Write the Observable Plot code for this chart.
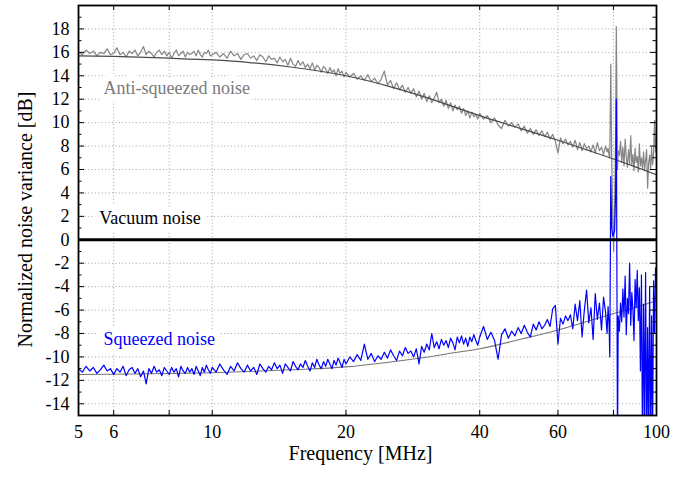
<!DOCTYPE html>
<html>
<head>
<meta charset="utf-8">
<script src="https://cdn.jsdelivr.net/npm/d3@7"></script>
<script src="https://cdn.jsdelivr.net/npm/@observablehq/plot@0.6"></script>
<style>
  html, body { margin: 0; padding: 0; background: #fff; }
  svg { display: block; }
  svg, svg text { font-family: "Liberation Serif", "Times New Roman", Tinos, "DejaVu Serif", "Noto Serif", serif !important; }
</style>
</head>
<body>
<div id="chart"></div>
<script>
// Sample frequencies [MHz]
const freq = [
  5.0,5.1,5.2,5.3,5.4,5.5,5.6,5.7,5.8,5.9,
  6.0,6.1,6.2,6.3,6.4,6.5,6.6,6.7,6.8,6.9,
  7.0,7.1,7.2,7.3,7.4,7.5,7.6,7.7,7.8,7.9,
  8.0,8.1,8.2,8.3,8.4,8.5,8.6,8.7,8.8,8.9,
  9.0,9.1,9.2,9.3,9.4,9.5,9.6,9.7,9.8,9.9,
  10,10.2,10.4,10.6,10.8,11,11.2,11.4,11.6,11.8,
  12,12.2,12.4,12.6,12.8,13,13.2,13.4,13.6,13.8,
  14,14.2,14.4,14.6,14.8,15,15.2,15.4,15.6,15.8,
  16,16.2,16.4,16.6,16.8,17,17.2,17.4,17.6,17.8,
  18,18.2,18.4,18.6,18.8,19,19.2,19.4,19.6,19.8,
  20,20.4,20.8,21.2,21.6,22,22.4,22.8,23.2,23.6,
  24,24.4,24.8,25.2,25.6,26,26.4,26.8,27.2,27.6,
  28,28.4,28.8,29.2,29.6,30,30.4,30.8,31.2,31.6,
  32,32.4,32.8,33.2,33.6,34,34.4,34.8,35.2,35.6,
  36,36.4,36.8,37.2,37.6,38,38.4,38.8,39.2,39.6,
  40,40.8,41.6,42.4,43.2,44,44.8,45.6,46.4,47.2,
  48,48.8,49.6,50.4,51.2,52,52.8,53.6,54.4,55.2,
  56,56.8,57.6,58.4,59.2,60,60.8,61.6,62.4,63.2,
  64,64.8,65.6,66.4,67.2,68,68.8,69.6,70.4,71.2,
  72,72.8,73.6,74.4,75.2,76,76.8,77.4,77.8,78.2,
  78.5,78.9,79.3,79.7,80.1,80.5,80.9,81.2,81.7,82.0,
  82.5,83,83.5,84,84.5,85,85.5,86,86.5,87,
  87.5,88,88.5,89,89.5,90,90.5,91,91.5,92,
  92.5,93,93.5,94,94.5,95,95.5,96,96.5,97,
  97.5,98,98.5,99,99.5,100
];

// Anti-squeezed noise [dB] (gray trace)
const antiSqueezed = [
  16.0,15.8,16.2,15.9,16.1,15.7,16.0,15.9,16.3,15.8,
  15.9,16.4,15.8,16.0,15.6,16.1,15.9,16.2,15.7,16.0,
  16.5,15.8,16.1,15.9,15.6,16.0,16.2,15.8,16.1,15.7,
  16.0,15.5,15.9,16.2,15.7,15.9,16.1,15.6,16.0,15.8,
  15.9,16.1,15.7,16.2,15.8,15.6,16.0,15.9,16.2,15.7,
  15.8,16.0,15.6,15.9,15.5,16.1,15.7,15.9,15.4,15.8,
  15.9,15.5,15.7,15.3,15.8,15.6,15.2,15.7,15.4,15.5,
  15.1,15.6,15.2,15.4,14.9,15.5,15.0,14.8,15.3,14.9,
  15.2,14.7,15.0,14.6,15.1,14.5,14.9,14.7,14.3,14.8,
  14.6,14.2,14.7,14.3,14.5,14.0,14.6,14.2,14.4,13.9,
  14.3,13.9,14.2,13.7,14.0,13.6,14.1,13.5,13.8,13.3,
  13.7,14.4,13.2,13.6,12.9,13.4,12.8,13.2,12.6,13.0,
  12.5,12.9,12.2,12.7,12.0,12.5,11.8,12.3,11.7,12.1,
  12.6,11.7,12.0,11.4,11.9,11.2,11.7,11.0,11.5,11.1,
  11.4,10.8,11.2,10.6,11.0,10.4,10.9,10.5,10.7,10.3,
  10.8,10.3,10.6,10.0,10.4,9.8,9.5,10.2,9.7,10.0,
  9.6,9.9,9.3,9.7,9.1,9.5,9.0,9.4,8.9,9.3,
  8.8,9.2,8.6,9.0,8.4,7.4,8.7,8.2,8.6,8.1,
  8.4,7.9,8.5,7.7,8.3,7.6,8.2,7.8,8.0,7.5,
  8.1,7.4,8.3,7.6,7.9,7.3,8.0,7.5,7.8,7.2,
  7.0,15.0,6.5,2.0,-1.0,3.0,9.0,18.2,6.0,7.6,
  7.2,8.4,6.6,7.9,6.3,8.6,7.0,6.2,7.7,6.5,
  8.9,6.4,7.3,5.9,7.8,6.6,7.1,5.8,8.2,6.3,
  7.0,6.1,7.5,5.9,6.8,7.7,4.4,6.5,7.2,6.0,
  7.9,6.4,7.3,10.2,7.5,8.6
];

// Squeezed noise [dB] (blue trace)
const squeezed = [
  -11.0,-11.3,-10.8,-11.2,-10.9,-11.4,-11.1,-10.7,-11.2,-11.0,
  -11.5,-11.0,-11.3,-10.8,-11.6,-11.1,-10.9,-11.4,-11.0,-11.7,
  -11.2,-12.3,-11.0,-11.4,-10.8,-11.3,-11.1,-11.6,-10.9,-11.2,
  -11.5,-10.9,-11.3,-11.0,-11.7,-10.8,-11.2,-11.4,-10.9,-11.3,
  -11.0,-11.5,-10.8,-11.2,-11.6,-10.9,-11.3,-10.7,-11.1,-11.4,
  -10.9,-11.3,-10.6,-11.1,-11.5,-10.8,-11.2,-10.5,-11.0,-11.3,
  -10.7,-11.2,-10.9,-11.5,-10.6,-11.0,-11.3,-10.8,-11.1,-10.5,
  -11.0,-10.7,-11.4,-10.6,-10.9,-11.2,-10.4,-10.8,-11.1,-10.6,
  -10.9,-10.3,-10.8,-11.2,-10.5,-10.9,-10.2,-10.7,-11.0,-10.4,
  -10.8,-10.2,-10.6,-11.0,-10.3,-10.7,-10.1,-10.5,-10.9,-10.2,
  -10.6,-10.0,-10.4,-9.8,-10.3,-8.9,-10.2,-9.7,-10.4,-9.9,
  -10.2,-9.6,-10.1,-9.4,-9.9,-10.3,-9.5,-9.9,-9.2,-9.7,
  -9.5,-10.0,-9.3,-10.6,-9.1,-9.6,-8.9,-9.4,-8.0,-9.2,
  -8.7,-9.3,-8.5,-9.0,-8.6,-9.2,-8.4,-8.8,-9.4,-8.3,
  -8.8,-8.2,-8.9,-8.4,-9.1,-8.3,-8.7,-8.1,-8.6,-9.0,
  -8.3,-7.4,-8.5,-7.9,-8.6,-10.2,-8.1,-7.6,-8.4,-7.8,
  -8.2,-7.5,-8.0,-7.3,-7.9,-8.3,-7.2,-7.7,-7.0,-7.6,
  -7.3,-6.8,-7.4,-5.9,-5.6,-8.9,-6.7,-7.2,-6.5,-6.9,
  -6.4,-7.6,-5.5,-6.9,-5.2,-8.3,-6.0,-4.3,-7.1,-5.8,
  -8.5,-4.6,-6.8,-5.4,-7.7,-4.9,-6.2,-8.0,-5.7,-7.2,
  -10.0,5.4,1.0,0.3,0.5,0.8,4.0,12.0,-18,-6.5,
  -7.8,-5.4,-7.0,-4.2,-6.6,-3.1,-8.1,-5.0,-6.3,-2.0,
  -7.3,-4.5,-6.0,-8.6,-3.4,-5.8,-2.6,-6.9,-4.1,-11.2,
  -3.0,-18,-5.5,-16,-2.8,-18,-7.5,-17,-4.0,-18,
  -6.5,-17,-3.5,-8.0,-2.4,-4.0
];

// Fitted curves
const fitFreq = [5, 6, 8, 10, 12, 15, 20, 25, 30, 35, 40, 50, 60, 70, 80, 90, 100];
const antiFit = [15.7, 15.65, 15.5, 15.35, 15.15, 14.75, 14.0, 13.1, 12.2, 11.35, 10.6, 9.45, 8.5, 7.65, 6.9, 6.2, 5.55];
const squeezedFit = [-11.5, -11.48, -11.42, -11.35, -11.25, -11.1, -10.85, -10.45, -10.05, -9.65, -9.3, -8.45, -7.7, -6.95, -6.3, -5.75, -5.2];

// Ticks
const xTicks = [5, 6, 8, 10, 20, 40, 60, 80, 100];
const xGrid = [6, 8, 10, 20, 40, 60, 80];
const yTicks = [-14, -12, -10, -8, -6, -4, -2, 0, 2, 4, 6, 8, 10, 12, 14, 16, 18];
const yMinor = [-13, -11, -9, -7, -5, -3, -1, 1, 3, 5, 7, 9, 11, 13, 15, 17, 19];
const yGrid = yTicks.filter(d => d !== 0);

if (freq.length !== antiSqueezed.length || freq.length !== squeezed.length) {
  throw new Error(`length mismatch ${freq.length} ${antiSqueezed.length} ${squeezed.length}`);
}

const antiData = freq.map((f, i) => ({f, v: antiSqueezed[i]}));
const sqData = freq.map((f, i) => ({f, v: squeezed[i]}));
const antiFitData = fitFreq.map((f, i) => ({f, v: antiFit[i]}));
const sqFitData = fitFreq.map((f, i) => ({f, v: squeezedFit[i]}));

const W = 675, H = 478, mL = 78, mR = 19, mT = 5, mB = 63;
const pw = W - mL - mR, ph = H - mT - mB;
const serif = "Liberation Serif, Times New Roman, Tinos, DejaVu Serif, Noto Serif, serif";

const chart = Plot.plot({
  width: W,
  height: H,
  marginLeft: mL,
  marginRight: mR,
  marginTop: mT,
  marginBottom: mB,
  style: {background: "white", color: "black"},
  x: {type: "log", domain: [5, 100]},
  y: {domain: [-15, 20]},
  marks: [
    // grid
    Plot.ruleX(xGrid, {x: d => d, stroke: "#9a9a9a", strokeWidth: 0.9, strokeDasharray: "1,2.4"}),
    Plot.ruleY(yGrid, {y: d => d, stroke: "#9a9a9a", strokeWidth: 0.9, strokeDasharray: "1,2.4"}),
    // annotations (white halo hides grid behind)
    Plot.text(["Anti-squeezed noise"], {x: 5.69, y: 12.9, text: d => d, textAnchor: "start", lineAnchor: "middle", fill: "#7a7a7a", stroke: "white", strokeWidth: 13, paintOrder: "stroke", fontSize: 18, fontFamily: serif}),
    Plot.text(["Vacuum noise"], {x: 5.57, y: 1.86, text: d => d, textAnchor: "start", lineAnchor: "middle", fill: "black", stroke: "white", strokeWidth: 13, paintOrder: "stroke", fontSize: 18, fontFamily: serif}),
    Plot.text(["Squeezed noise"], {x: 5.69, y: -8.53, text: d => d, textAnchor: "start", lineAnchor: "middle", fill: "#0000ff", stroke: "white", strokeWidth: 13, paintOrder: "stroke", fontSize: 18, fontFamily: serif}),
    // anti-squeezed trace + fit
    Plot.line(antiData, {x: "f", y: "v", stroke: "#858585", strokeWidth: 1.2, clip: true}),
    Plot.line(antiFitData, {x: "f", y: "v", stroke: "#4a4a4a", strokeWidth: 1.2, curve: "monotone-x"}),
    // squeezed fit + trace
    Plot.line(sqFitData, {x: "f", y: "v", stroke: "#777777", strokeWidth: 1.1, curve: "monotone-x"}),
    Plot.line(sqData, {x: "f", y: "v", stroke: "#0000ff", strokeWidth: 1.2, clip: true}),
    // vacuum noise level
    Plot.ruleY([0], {y: d => d, stroke: "black", strokeWidth: 3}),
    // inward tick marks
    Plot.tickX(xGrid, {x: d => d, insetTop: ph - 5, stroke: "black", strokeWidth: 1}),
    Plot.tickX(xGrid, {x: d => d, insetBottom: ph - 5, stroke: "black", strokeWidth: 1}),
    Plot.tickY(yTicks, {y: d => d, insetRight: pw - 6, stroke: "black", strokeWidth: 1}),
    Plot.tickY(yTicks, {y: d => d, insetLeft: pw - 6, stroke: "black", strokeWidth: 1}),
    Plot.tickY(yMinor, {y: d => d, insetRight: pw - 3.5, stroke: "black", strokeWidth: 1}),
    Plot.tickY(yMinor, {y: d => d, insetLeft: pw - 3.5, stroke: "black", strokeWidth: 1}),
    Plot.frame({stroke: "black", strokeWidth: 1.8}),
    // tick labels
    Plot.axisX({ticks: xTicks, tickSize: 0, tickPadding: 10, tickFormat: d => String(d), fontSize: 18, fontFamily: serif, label: null}),
    Plot.axisY({ticks: yTicks, tickSize: 0, tickPadding: 9, tickFormat: d => String(d), fontSize: 18, fontFamily: serif, label: null}),
    // axis titles
    Plot.text(["Frequency [MHz]"], {frameAnchor: "bottom", text: d => d, textAnchor: "middle", lineAnchor: "middle", dx: -7, dy: 38, fontSize: 20, fontFamily: serif, fill: "black"}),
    Plot.text(["Normalized noise variance [dB]"], {frameAnchor: "left", text: d => d, textAnchor: "middle", lineAnchor: "middle", rotate: -90, dx: -53, dy: 9, fontSize: 20, fontFamily: serif, fill: "black"})
  ]
});

document.getElementById("chart").appendChild(chart);
</script>
</body>
</html>
